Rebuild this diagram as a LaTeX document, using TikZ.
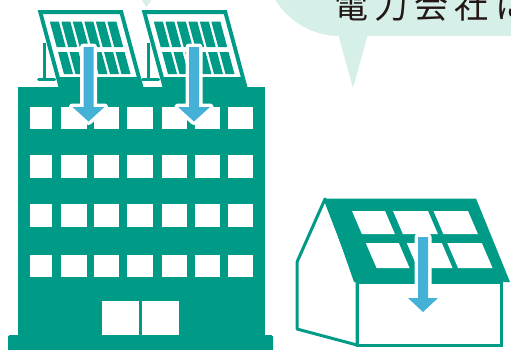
\documentclass[tikz,border=0pt]{standalone}
\usepackage{fontspec}
\newfontfamily\jpfont[LetterSpace=18.5]{Noto Sans CJK JP}
\definecolor{bldgteal}{RGB}{0,155,135}
\definecolor{bubblemint}{RGB}{214,239,233}
\definecolor{arrowblue}{RGB}{69,177,215}
\definecolor{inkdark}{RGB}{35,24,21}

% slanted cell: left x, right x (at top), top y, bottom y, slope, fill colour
\newcommand{\slantcell}[6]{\fill[#6] (#1,#3) -- (#2,#3) -- ({#2+#5*(#4-#3)},#4) -- ({#1+#5*(#4-#3)},#4) -- cycle;}

% down arrow with white halo: centre x, shaft top, head top, tip, shaft half width, head half width
\newcommand{\flowarrow}[6]{%
  \draw[white, line width=7pt, line join=round] ({#1-#5},#2) -- ({#1+#5},#2) -- ({#1+#5},#3) -- ({#1+#6},#3) -- (#1,#4) -- ({#1-#6},#3) -- ({#1-#5},#3) -- cycle;
  \fill[arrowblue] ({#1-#5},#2) -- ({#1+#5},#2) -- ({#1+#5},#3) -- ({#1+#6},#3) -- (#1,#4) -- ({#1-#6},#3) -- ({#1-#5},#3) -- cycle;}

\begin{document}
\begin{tikzpicture}[x=1pt, y=-1pt]
\useasboundingbox (0,0) rectangle (511,349);
\clip (0,0) rectangle (511,349);

% speech bubble
\fill[bubblemint, rounded corners=76pt] (264,-300) rectangle (620,36);
\fill[bubblemint] (338,34) -- (368,34) -- (353,88) -- cycle;
\fill[bubblemint] (141,-1) -- (152,-1) -- (146.5,7) -- cycle;
\node[anchor=base west, inner sep=0pt, text=inkdark,
      font=\jpfont\fontsize{34}{34}\selectfont] (bubbletext) at (333.8,18.5) {電力会社に};

% office building
\fill[bldgteal] (18,87) rectangle (265,336);
\fill[bldgteal, rounded corners=1.5pt] (8,335) rectangle (273,352);
\foreach \ya/\yb in {107/129, 155/178, 204/227, 255/277} {
  \foreach \xa/\xb in {30/52, 61/87, 94/119, 127/153, 162/187, 195/220, 228/253} {
    \fill[white] (\xa,\ya) rectangle (\xb,\yb);
  }
}
\fill[white] (102,301) rectangle (139,335);
\fill[white] (142,301) rectangle (179,335);

% rooftop solar panels
\def\panslope{0.27}
\foreach \ox in {37.7,141.7} {
  % support leg and foot
  \draw[bldgteal, line width=3pt] ({\ox+6.8},43) -- ({\ox+6.8},79.5);
  \draw[bldgteal, line width=3pt, line cap=round] ({\ox+1},79.5) -- ({\ox+17},79.5);
  % frame
  \fill[bldgteal, even odd rule]
    (\ox,10) -- ({\ox+85},10) -- ({\ox+85+\panslope*77},87) -- ({\ox+\panslope*77},87) -- cycle
    ({\ox+4+\panslope*4},14) -- ({\ox+81+\panslope*4},14) -- ({\ox+81+\panslope*67},77) -- ({\ox+4+\panslope*67},77) -- cycle;
  % cells
  \foreach \i in {0,...,5} {
    \pgfmathsetmacro{\ua}{\ox+9+\i*11.5}
    \pgfmathsetmacro{\ub}{\ua+9}
    \slantcell{\ua+\panslope*11.5}{\ub+\panslope*11.5}{21.5}{47}{\panslope}{bldgteal}
    \slantcell{\ua+\panslope*42}{\ub+\panslope*42}{52}{74}{\panslope}{bldgteal}
  }
}
\flowarrow{88.5}{47}{107}{121.5}{5}{16}
\flowarrow{194}{47}{107}{121.5}{5}{16}

% house
\draw[bldgteal, line width=3pt, fill=white, line join=round]
  (297,329) -- (297,262) -- (325,199) -- (357,282) -- (357,345) -- cycle;
\draw[bldgteal, line width=3pt, fill=white] (357,282) rectangle (501.5,345);
\fill[bldgteal] (325,198.5) -- (476,198.5) -- (510,282) -- (354,282) -- cycle;
\foreach \xa/\xb in {352/385, 393/428, 433.5/468} {
  \slantcell{\xa}{\xb}{211}{234}{0.43}{white}
}
\foreach \xa/\xb in {365.8/398.8, 406.8/441.8, 447.3/481.8} {
  \slantcell{\xa}{\xb}{243}{268}{0.43}{white}
}
\flowarrow{423}{237}{298}{312}{5}{15}
\end{tikzpicture}
\end{document}
